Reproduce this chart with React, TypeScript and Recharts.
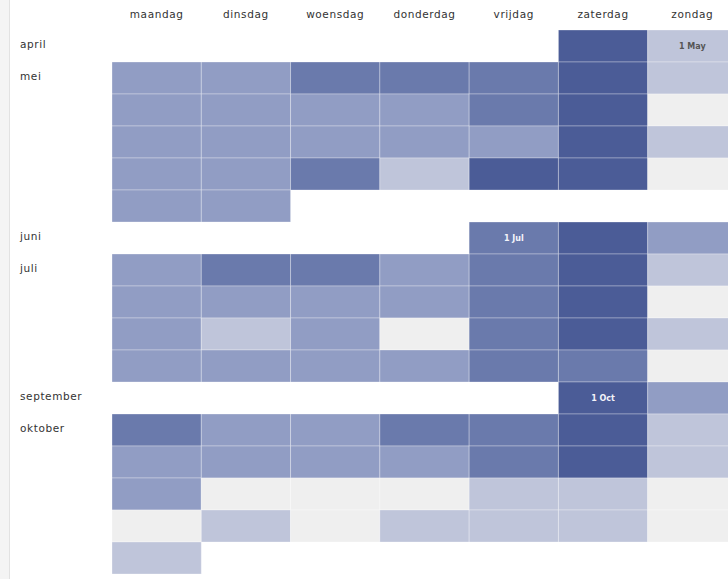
import { BarChart, Bar, XAxis, YAxis, Cell, LabelList } from "recharts";

// weekday columns
const days = ["maandag", "dinsdag", "woensdag", "donderdag", "vrijdag", "zaterdag", "zondag"];

// month label per calendar row (blank = same month continues)
const rowMonths = [
  "april", "mei", "", "", "", "",
  "juni", "juli", "", "", "",
  "september", "oktober", "", "", "", "",
];

// intensity level per row / weekday (0 = no cell)
const levels: number[][] = [
  [0, 0, 0, 0, 0, 5, 2],
  [3, 3, 4, 4, 4, 5, 2],
  [3, 3, 3, 3, 4, 5, 1],
  [3, 3, 3, 3, 3, 5, 2],
  [3, 3, 4, 2, 5, 5, 1],
  [3, 3, 0, 0, 0, 0, 0],
  [0, 0, 0, 0, 4, 5, 3],
  [3, 4, 4, 3, 4, 5, 2],
  [3, 3, 3, 3, 4, 5, 1],
  [3, 2, 3, 1, 4, 5, 2],
  [3, 3, 3, 3, 4, 4, 1],
  [0, 0, 0, 0, 0, 5, 3],
  [4, 3, 3, 4, 4, 5, 2],
  [3, 3, 3, 3, 4, 5, 2],
  [3, 1, 1, 1, 2, 2, 1],
  [1, 2, 1, 2, 2, 2, 1],
  [2, 0, 0, 0, 0, 0, 0],
];

// cell annotations
const notes = [
  { row: 0, day: 6, text: "1 May" },
  { row: 6, day: 4, text: "1 Jul" },
  { row: 11, day: 5, text: "1 Oct" },
];

const palette = ["transparent", "#efefef", "#bfc5da", "#919dc4", "#6a7aac", "#4b5c97"];

const FONT = "'DejaVu Sans', Verdana, sans-serif";

const data = rowMonths.map((m, r) => {
  const row: Record<string, number | string> = { id: String(r), month: m };
  days.forEach((_, d) => {
    row[`d${d}`] = 1;
    const note = notes.find(n => n.row === r && n.day === d);
    row[`n${d}`] = note ? note.text : "";
  });
  return row;
});

const DayTick = (props: any) => {
  const { x, payload } = props;
  return (
    <text x={x} y={18} textAnchor="middle" fontSize={10.5} letterSpacing={0.6} fontFamily={FONT} fill="#333">
      {days[Math.floor(payload.value)]}
    </text>
  );
};

const MonthTick = (props: any) => {
  const { y, payload } = props;
  const label = rowMonths[Number(payload.value)];
  if (!label) return null;
  return (
    <text x={20} y={y} dy={-1} textAnchor="start" dominantBaseline="middle" fontSize={10.5} letterSpacing={0.6} fontFamily={FONT} fill="#333">
      {label}
    </text>
  );
};

const makeNote = (d: number) => (props: any) => {
  const { x, y, width, height, value, index } = props;
  if (!value) return null;
  const lvl = levels[index][d];
  return (
    <text
      x={x + width / 2}
      y={y + height / 2}
      textAnchor="middle"
      dominantBaseline="middle"
      fontSize={8}
      fontWeight="bold"
      fontFamily={FONT}
      fill={lvl >= 4 ? "#f4f4fa" : "#555"}
    >
      {value}
    </text>
  );
};

export default function App() {
  return (
    <div style={{ position: "absolute", left: 0, top: 0, width: 728, height: 579, overflow: "hidden", background: "#fff" }}>
      <div style={{ position: "absolute", left: 0, top: 0, width: 9, height: 579, background: "#f4f4f4", borderRight: "1px solid #e2e2e2" }} />
      <BarChart
        width={740}
        height={579}
        data={data}
        layout="vertical"
        margin={{ top: 0, right: 3, left: 0, bottom: 5 }}
        barCategoryGap={0}
        barGap={0}
        style={{ position: "absolute", left: 0, top: 0 }}
      >
        <XAxis
          type="number"
          orientation="top"
          domain={[0, 7]}
          ticks={[0.5, 1.5, 2.5, 3.5, 4.5, 5.5, 6.5]}
          height={30}
          axisLine={false}
          tickLine={false}
          tick={<DayTick />}
        />
        <YAxis
          type="category"
          dataKey="id"
          width={112}
          axisLine={false}
          tickLine={false}
          tick={<MonthTick />}
          interval={0}
        />
        {days.map((_, d) => (
          <Bar key={d} dataKey={`d${d}`} stackId="cal" isAnimationActive={false}>
            {data.map((_, r) => (
              <Cell
                key={r}
                fill={palette[levels[r][d]]}
                stroke={levels[r][d] ? "rgba(255,255,255,0.3)" : "none"}
                strokeWidth={1}
              />
            ))}
            <LabelList dataKey={`n${d}`} content={makeNote(d)} />
          </Bar>
        ))}
      </BarChart>
    </div>
  );
}
